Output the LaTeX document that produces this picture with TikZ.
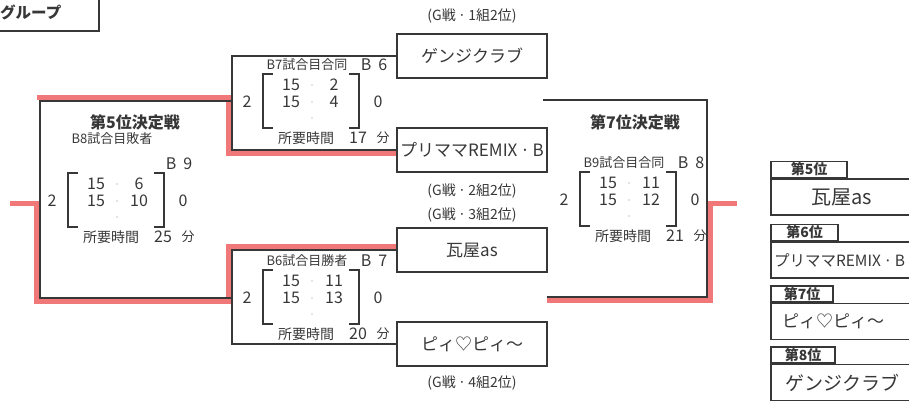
\documentclass[tikz,border=0pt]{standalone}
\usepackage{fontspec}
\setmainfont{Noto Sans CJK JP}
\usetikzlibrary{positioning, calc}

\definecolor{ink}{RGB}{55,55,55}
\definecolor{linered}{RGB}{240,120,120}

% score block of one match: name, centre, header, round, set scores, minutes
\newcommand{\matchblock}[9]{%
  \begin{scope}[shift={(#2)}]
    \draw[brk] (-38,-27) -- (-48,-27) -- (-48,27) -- (-38,27);
    \draw[brk] (38,-27) -- (48,-27) -- (48,27) -- (38,27);
    \node[hdr] (#1-hd) at (-4,-36) {#3};
    \node[num] (#1-rd) at (63,-36) {B\hspace{7pt}#4};
    \node[num] (#1-a1) at (-20,-16) {#5};
    \node[num] (#1-b1) at (23,-16) {#6};
    \node[num] (#1-a2) at (-20,1) {#7};
    \node[num] (#1-b2) at (23,1) {#8};
    \foreach \dy in {-16,1,17} {\fill[dot] (1,\dy) circle (0.9);}
    \node[num] (#1-w) at (-64,1) {2};
    \node[num] (#1-l) at (67,1) {0};
    \node[hdr, font=\fontsize{14}{16}\selectfont] (#1-tl) at (-5,37) {所要時間};
    \node[num] (#1-tm) at (47,37) {#9};
    \node[hdr] (#1-mn) at (72,37) {分};
  \end{scope}}

\begin{document}
\begin{tikzpicture}[
    x=1pt, y=-1pt,
    every node/.style={text=ink},
    frame/.style={draw=ink, line width=1.4},
    win/.style={draw=linered, line width=5},
    brk/.style={draw=ink, line width=1.8},
    dot/.style={fill=gray!45},
    team/.style={draw=ink, line width=1.4, minimum width=150, minimum height=44,
                 inner sep=1pt, font=\fontsize{17}{20}\selectfont},
    note/.style={inner sep=1pt, font=\fontsize{14}{16}\selectfont},
    num/.style={inner sep=1pt, font=\fontsize{16}{18}\selectfont},
    hdr/.style={inner sep=1pt, font=\fontsize{13}{15}\selectfont},
    title/.style={inner sep=1pt, font=\fontsize{16}{18}\selectfont\bfseries},
    rank/.style={draw=ink, line width=1.6, minimum width=142, minimum height=36,
                 inner sep=1pt, font=\fontsize{19}{21}\selectfont},
    tab/.style={draw=ink, line width=1.6, minimum height=16, inner sep=1pt,
                font=\fontsize{14}{16}\selectfont\bfseries}
]
\useasboundingbox (0,0) rectangle (909,405);

% group label, cut by the left edge
\node[draw=ink, line width=2, minimum width=150, minimum height=50, anchor=south east] (grp) at (100,32) {};
\node[title, font=\fontsize{15.5}{18}\selectfont\bfseries, anchor=west] (grptxt) at (-1,12) {グループ};

% teams
\node[team] (genji) at (472,56) {ゲンジクラブ};
\node[team] (purima) at (472,150) {プリママREMIX\,·\,B};
\node[team] (kawara) at (472,250) {瓦屋as};
\node[team] (pipi) at (472,344) {ピィ♡ピィ～};

\node[note, above=9pt of genji] (n1) {(G戦\,·\,1組2位)};
\node[note, below=10pt of purima] (n2) {(G戦\,·\,2組2位)};
\node[note, above=4pt of kawara] (n3) {(G戦\,·\,3組2位)};
\node[note, below=8pt of pipi] (n4) {(G戦\,·\,4組2位)};

% join points of the bracket
\coordinate (b7mid) at (232,101);
\coordinate (b6mid) at (232,298);
\coordinate (p5mid) at (40,200);
\coordinate (out5) at (10,203.2);
\coordinate (p7top) at (543,100);
\coordinate (p7bot) at (547,297);
\coordinate (p7mid) at (707,200);
\coordinate (out7) at (737,203.2);

% winners' lines
\draw[win] ($(purima.west)+(0,3.2)$) -| ($(b7mid)+(-3.2,-3.2)$) -- ($(p5mid|-b7mid)+(-3.2,-3.2)$);
\draw[win] ($(kawara.west)+(0,-3.2)$) -| ($(b6mid)+(-3.2,3.2)$) -| ($(p5mid)+(-3.2,3.2)$) -- (out5);
\draw[win] ($(p7bot)+(0,3.2)$) -| ($(p7mid)+(3.2,3.2)$) -- (out7);

% bracket frames
\draw[frame] (genji.west) -| (b7mid) |- (purima.west);
\draw[frame] (kawara.west) -| (b6mid) |- (pipi.west);
\draw[frame] (b7mid) -| (p5mid) |- (b6mid);
\draw[frame] (p7top) -| (p7mid) |- (p7bot);

% matches
\matchblock{sp5}{116,200}{}{9}{15}{6}{15}{10}{25}
\matchblock{sb7}{311,101}{B7試合目合同}{6}{15}{2}{15}{4}{17}
\matchblock{sb6}{311,297}{B6試合目勝者}{7}{15}{11}{15}{13}{20}
\matchblock{sp7}{628,199}{B9試合目合同}{8}{15}{11}{15}{12}{21}

\node[title] (t5) at (135,122) {第5位決定戦};
\node[hdr] (t5sub) at (112,139) {B8試合目敗者};
\node[title] (t7) at (635,122) {第7位決定戦};

% final places
\node[rank, font=\fontsize{20}{22}\selectfont] (r5) at (842,197) {瓦屋as};
\node[rank, font=\fontsize{15.5}{18}\selectfont, text width=136, inner xsep=3, align=left] (r6) at (842,260) {プリママREMIX\,·\,B};
\node[rank, font=\fontsize{17}{19}\selectfont, text width=120, inner xsep=11, align=left] (r7) at (842,321.5) {ピィ♡ピィ～};
\node[rank] (r8) at (842,382.5) {ゲンジクラブ};
\foreach \rk/\w in {5/76,6/67,7/62,8/64}
  \node[tab, minimum width=\w, above right=0pt of r\rk.north west] (tab\rk) {第\rk 位};

\end{tikzpicture}
\end{document}
